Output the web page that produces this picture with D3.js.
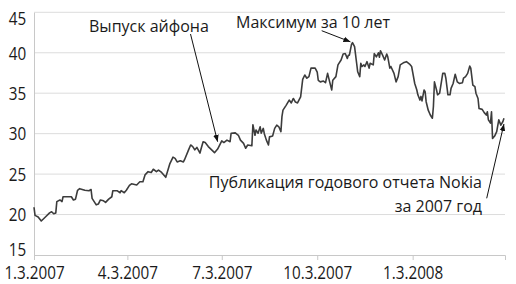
<!DOCTYPE html>
<html>
<head>
<meta charset="utf-8">
<script src="https://cdn.jsdelivr.net/npm/d3@7"></script>
<style>
  body { margin: 0; background: #fff; }
  text { font-family: "Open Sans", "Noto Sans", sans-serif; fill: #1a1a1a; }
</style>
</head>
<body>
<div id="chart"></div>
<script>
// days after 3 Jan 2007 and price
const dayOffset = [0, 1, 4, 7, 11, 15, 17, 19, 21, 22, 25, 27, 28, 32, 36, 38, 40, 42, 44, 49,
  53, 55, 56, 58, 60, 62, 64, 67, 69, 72, 75, 76, 80, 83, 84, 87, 89, 92, 94, 99,
  102, 105, 107, 110, 113, 115, 118, 120, 123, 127, 131, 134, 136, 138, 141, 144, 145, 149, 151, 153,
  155, 157, 160, 161, 163, 165, 168, 172, 174, 177, 181, 183, 186, 189, 190, 194, 197, 199, 202, 204,
  206, 210, 211, 213, 214, 216, 218, 219, 221, 222, 224, 226, 227, 230, 232, 234, 236, 238, 239, 240,
  243, 246, 248, 250, 252, 254, 257, 259, 261, 263, 265, 267, 271, 273, 274, 276, 279, 281, 283, 285,
  287, 288, 291, 293, 296, 298, 300, 302, 303, 304, 306, 307, 309, 311, 312, 314, 315, 316, 318, 319,
  321, 323, 324, 327, 328, 330, 332, 333, 334, 336, 338, 340, 341, 343, 344, 347, 349, 351, 353, 356,
  359, 362, 364, 365, 367, 369, 370, 372, 373, 374, 376, 377, 378, 380, 382, 384, 385, 386, 388, 389,
  391, 394, 396, 397, 399, 401, 402, 404, 406, 408, 410, 413, 414, 416, 418, 420, 421, 423, 425, 426,
  428, 429, 432, 434, 436, 437, 438, 440, 441, 442, 444, 446, 448, 450, 452, 453];
const price = [20.9, 19.9, 19.7, 19.2, 19.7, 20.2, 20.35, 20.1, 20.2, 21.6, 21.8, 21.6, 22.2, 22.2, 22.2, 21.8, 21.9, 23.0, 23.2, 23.0,
  22.95, 23.1, 22.0, 21.6, 21.2, 21.3, 21.8, 21.7, 21.5, 21.9, 22.2, 22.95, 22.95, 22.7, 22.95, 22.7, 23.0, 23.6, 23.8, 23.65,
  24.05, 24.05, 24.9, 25.3, 25.2, 25.6, 25.3, 25.5, 25.2, 24.6, 26.3, 27.1, 26.95, 26.5, 26.65, 26.5, 26.75, 28.0, 28.6, 28.4,
  28.0, 28.3, 27.6, 28.1, 29.0, 28.9, 28.4, 27.9, 27.65, 28.1, 29.1, 28.9, 29.2, 29.0, 30.05, 30.1, 29.8, 29.2, 28.8, 28.2,
  28.6, 28.5, 31.1, 29.8, 30.45, 30.05, 30.85, 30.05, 30.65, 30.0, 29.2, 28.6, 29.6, 29.7, 30.65, 31.05, 30.85, 30.25, 32.1, 32.9,
  33.5, 34.15, 33.8, 34.35, 33.9, 33.8, 34.55, 36.7, 37.25, 36.85, 37.05, 38.1, 38.1, 37.6, 36.6, 36.4, 36.5, 36.3, 37.45, 36.4,
  35.4, 36.6, 37.05, 38.5, 39.1, 39.85, 39.9, 39.3, 39.7, 39.7, 41.0, 41.25, 40.75, 38.7, 37.65, 37.05, 38.7, 38.3, 38.5, 38.3,
  38.9, 38.1, 38.7, 38.5, 39.9, 39.5, 40.0, 39.45, 40.25, 39.7, 39.1, 39.85, 39.5, 38.1, 38.3, 37.45, 36.4, 37.05, 38.5, 38.75,
  38.9, 38.6, 38.3, 37.6, 36.2, 35.4, 34.8, 34.15, 34.6, 34.05, 35.4, 35.2, 33.95, 32.9, 32.3, 31.9, 33.35, 36.4, 35.4, 34.8,
  35.0, 37.45, 37.45, 36.85, 34.8, 34.8, 35.6, 36.2, 37.35, 36.4, 36.2, 36.3, 36.85, 37.05, 37.45, 38.35, 38.1, 36.0, 35.8, 35.0,
  34.35, 33.1, 33.0, 32.6, 32.3, 32.7, 31.7, 31.3, 32.7, 29.4, 29.7, 30.25, 31.7, 31.05, 31.5, 31.9];

const tickDays = [0, 90, 181, 273, 365];
const tickLabels = ["1.3.2007", "4.3.2007", "7.3.2007", "10.3.2007", "1.3.2008"];
const yTicks = [15, 20, 25, 30, 35, 40, 45];

// annotations: text lines, target (day, price)
const noteLines = [["Выпуск айфона"], ["Максимум за 10 лет"], ["Публикация годового отчета Nokia", "за 2007 год"]];
const noteDay = [177, 305, 453];
const notePrice = [29.0, 41.35, 31.2];

const width = 516, height = 284;
const margin = { top: 12.3, left: 34, right: 11, bottom: 29 };

const startDate = new Date(2007, 0, 3);
const toDate = d => d3.timeDay.offset(startDate, d);

const svg = d3.select("#chart")
  .append("svg")
  .attr("width", width)
  .attr("height", height);

const x = d3.scaleTime()
  .domain([startDate, toDate(454)])
  .range([margin.left, width - margin.right]);

const y = d3.scaleLinear()
  .domain([15, 45])
  .range([height - margin.bottom, margin.top]);

// gridlines
svg.append("g")
  .selectAll("line")
  .data(yTicks.slice(1))
  .enter()
  .append("line")
  .attr("x1", margin.left)
  .attr("x2", width - margin.right)
  .attr("y1", d => y(d))
  .attr("y2", d => y(d))
  .attr("stroke", "#dcdcdc")
  .attr("stroke-width", 1);

// y axis
const yAxis = svg.append("g")
  .attr("transform", "translate(" + margin.left + ",0)")
  .call(d3.axisLeft(y).tickValues(yTicks).tickSize(0).tickPadding(9));
yAxis.select(".domain").attr("stroke", "#c8c8c8");
yAxis.selectAll("text")
  .attr("font-size", 17.5)
  .attr("transform", "scale(0.87,1)")
  .attr("dy", d => d === 45 ? "0.7em" : d === 15 ? "0.02em" : "0.36em");

// x axis
const xAxis = svg.append("g")
  .attr("transform", "translate(0," + y(15) + ")")
  .call(d3.axisBottom(x)
    .tickValues(tickDays.map(toDate))
    .tickFormat((d, i) => tickLabels[i])
    .tickSize(5)
    .tickPadding(6.5));
xAxis.select(".domain").attr("stroke", "#c8c8c8");
xAxis.selectAll(".tick line").attr("stroke", "#c8c8c8");
xAxis.selectAll("text")
  .attr("font-size", 17.5)
  .attr("transform", "scale(0.87,1)");

// price line
const line = d3.line()
  .x((d, i) => x(toDate(dayOffset[i])))
  .y(d => y(d));

svg.append("path")
  .attr("d", line(price))
  .attr("fill", "none")
  .attr("stroke", "#3c3c3c")
  .attr("stroke-width", 1.6)
  .attr("stroke-linejoin", "round");

// arrows
svg.append("defs").append("marker")
  .attr("id", "arrow")
  .attr("viewBox", "0 0 10 10")
  .attr("refX", 10)
  .attr("refY", 5)
  .attr("markerWidth", 7)
  .attr("markerHeight", 7)
  .attr("markerUnits", "userSpaceOnUse")
  .attr("orient", "auto")
  .append("path")
  .attr("d", "M0,1L10,5L0,9z")
  .attr("fill", "#111");

const textPos = [[89, 31.5, "start"], [236, 28.3, "start"], [482, 188.3, "end"]];
const arrowFrom = [[190.5, 34], [321.7, 30.7], [486.7, 198.3]];

noteLines.forEach((lines, k) => {
  const t = svg.append("text")
    .attr("x", textPos[k][0])
    .attr("y", textPos[k][1])
    .attr("text-anchor", textPos[k][2])
    .attr("font-size", 16);
  lines.forEach((s, j) => {
    t.append("tspan")
      .attr("x", textPos[k][0])
      .attr("dy", j === 0 ? 0 : 23.4)
      .text(s);
  });
  svg.append("line")
    .attr("x1", arrowFrom[k][0])
    .attr("y1", arrowFrom[k][1])
    .attr("x2", x(toDate(noteDay[k])))
    .attr("y2", y(notePrice[k]))
    .attr("stroke", "#111")
    .attr("stroke-width", 1)
    .attr("marker-end", "url(#arrow)");
});
</script>
</body>
</html>
